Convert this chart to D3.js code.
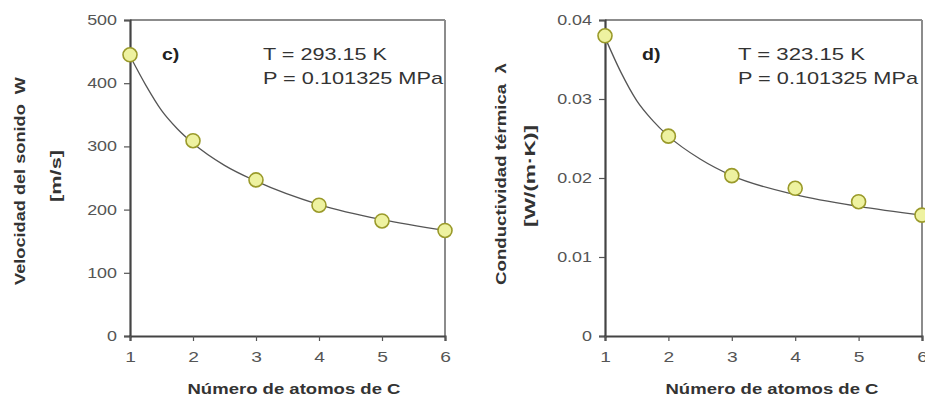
<!DOCTYPE html>
<html><head><meta charset="utf-8">
<script src="https://cdn.jsdelivr.net/npm/d3@7"></script>
<style>html,body{margin:0;padding:0;background:#fff;}svg{display:block;}text{white-space:pre;}</style>
</head><body>
<script>
// ---- data ----
const carbonAtoms = [1, 2, 3, 4, 5, 6];
const soundSpeed = [445, 309, 247, 207, 182, 167];
const thermalCond = [0.0380, 0.0253, 0.0203, 0.0187, 0.0170, 0.0153];
const fitX = [1, 1.25, 1.5, 1.75, 2, 2.5, 3, 4, 5, 6];
const soundFit = [443, 397, 357, 328, 305, 270, 245, 208, 184, 167];
const condFit = [0.0378, 0.0334, 0.0298, 0.0273, 0.0253, 0.0224, 0.0203, 0.0179, 0.0164, 0.0153];
const xTickValues = [1, 2, 3, 4, 5, 6];
const yTicksSound = [0, 100, 200, 300, 400, 500];
const yTicksCond = [0, 0.01, 0.02, 0.03, 0.04];
const yTickLabelsCond = ["0", "0.01", "0.02", "0.03", "0.04"];

const W = 925, H = 402;
const svg = d3.select("body").append("svg").attr("width", W).attr("height", H);
const FONT = "'Liberation Sans', Arial, sans-serif";
const SX = 1.28;

function stretchText(g, x, y, txt, opts) {
  const rot = opts.rotate || 0;
  const t = g.append("text")
    .attr("transform", `translate(${x},${y}) rotate(${rot}) scale(${opts.sx || SX},1)`)
    .attr("text-anchor", opts.anchor || "start")
    .attr("font-family", FONT)
    .attr("font-size", opts.size)
    .attr("font-weight", opts.bold ? "bold" : "normal")
    .attr("fill", opts.fill || "#333")
    .attr("xml:space", "preserve")
    .text(txt);
  if (opts.len) t.attr("textLength", opts.len / (opts.sx || SX)).attr("lengthAdjust", "spacingAndGlyphs");
  return t;
}

function panel(cfg) {
  const g = svg.append("g");
  const x = d3.scaleLinear().domain([1, 6]).range([cfg.x0, cfg.x1]);
  const y = d3.scaleLinear().domain(cfg.yDomain).range([cfg.y1, cfg.y0]);

  // frame (top/right lighter)
  g.append("line").attr("x1", cfg.x0).attr("x2", cfg.x1).attr("y1", cfg.y0).attr("y2", cfg.y0)
    .attr("stroke", "#8c8c8c").attr("stroke-width", 2);
  g.append("line").attr("x1", cfg.x1).attr("x2", cfg.x1).attr("y1", cfg.y0).attr("y2", cfg.y1)
    .attr("stroke", "#8c8c8c").attr("stroke-width", 2);

  // y axis
  const ya = g.append("g").attr("transform", `translate(${cfg.x0},0)`)
    .call(d3.axisLeft(y).tickValues(cfg.yTicks).tickSize(6).tickPadding(8)
      .tickFormat((d, i) => cfg.yLabels[i]));
  ya.select(".domain").attr("stroke", "#444").attr("stroke-width", 2.2);
  ya.selectAll(".tick line").attr("stroke", "#555").attr("stroke-width", 1.2);
  ya.selectAll(".tick text").attr("font-family", FONT).attr("font-size", 14).attr("fill", "#555")
    .attr("x", -13 / SX).attr("transform", `scale(${SX},1)`);

  // x axis
  const xa = g.append("g").attr("transform", `translate(0,${cfg.y1})`)
    .call(d3.axisBottom(x).tickValues(xTickValues).tickSize(5).tickPadding(10).tickFormat(d3.format("d")));
  xa.select(".domain").attr("stroke", "#444").attr("stroke-width", 2.2);
  xa.selectAll(".tick line").attr("stroke", "#555").attr("stroke-width", 1.2);
  xa.selectAll(".tick text").attr("font-family", FONT).attr("font-size", 15).attr("fill", "#555")
    .attr("transform", `scale(${SX},1)`);

  // fit curve
  const line = d3.line().x((d, i) => x(fitX[i])).y(d => y(d)).curve(d3.curveMonotoneX);
  g.append("path").datum(cfg.fit).attr("d", line).attr("fill", "none")
    .attr("stroke", "#555").attr("stroke-width", 1.3);

  // points
  g.selectAll("circle.pt").data(cfg.values).join("circle").attr("class", "pt")
    .attr("cx", (d, i) => x(carbonAtoms[i])).attr("cy", d => y(d)).attr("r", 7)
    .attr("fill", "#eef2a0").attr("stroke", "#9a9a2a").attr("stroke-width", 1.6);

  // annotations
  stretchText(g, cfg.tagX, 60, cfg.tag, {size: 17, bold: true, fill: "#222", sx: 1.15});
  stretchText(g, cfg.annX, 60, cfg.tLabel, {size: 17, fill: "#333", len: cfg.tLen});
  stretchText(g, cfg.annX, 84, "P = 0.101325 MPa", {size: 17, fill: "#333", len: 180});

  // x title
  stretchText(g, cfg.xTitleCx, 394, "Número de atomos de C", {size: 14, bold: true, anchor: "middle", fill: "#333", len: 213});
  // y titles
  stretchText(g, cfg.yt1x, cfg.yt1cy, cfg.yTitle1, {size: 14, bold: true, anchor: "middle", rotate: -90, fill: "#333", len: cfg.yt1len});
  stretchText(g, cfg.yt2x, cfg.yt2cy, cfg.yTitle2, {size: 14, bold: true, anchor: "middle", rotate: -90, fill: "#333", len: cfg.yt2len});
}

panel({
  x0: 130, x1: 445, y0: 20, y1: 336,
  yDomain: [0, 500], yTicks: yTicksSound, yLabels: yTicksSound.map(String),
  values: soundSpeed, fit: soundFit,
  tag: "c)", tagX: 162, annX: 263, tLabel: "T = 293.15 K", tLen: 124,
  xTitleCx: 294,
  yTitle1: "Velocidad del sonido  W", yt1x: 25, yt1cy: 181, yt1len: 208,
  yTitle2: "[m/s]", yt2x: 61, yt2cy: 176, yt2len: 52
});

panel({
  x0: 605, x1: 922, y0: 20, y1: 336,
  yDomain: [0, 0.04], yTicks: yTicksCond, yLabels: yTickLabelsCond,
  values: thermalCond, fit: condFit,
  tag: "d)", tagX: 642, annX: 738, tLabel: "T = 323.15 K", tLen: 127,
  xTitleCx: 772,
  yTitle1: "Conductividad térmica  λ", yt1x: 506, yt1cy: 174, yt1len: 222,
  yTitle2: "[W/(m·K)]", yt2x: 535, yt2cy: 176, yt2len: 102
});
</script>
</body></html>
